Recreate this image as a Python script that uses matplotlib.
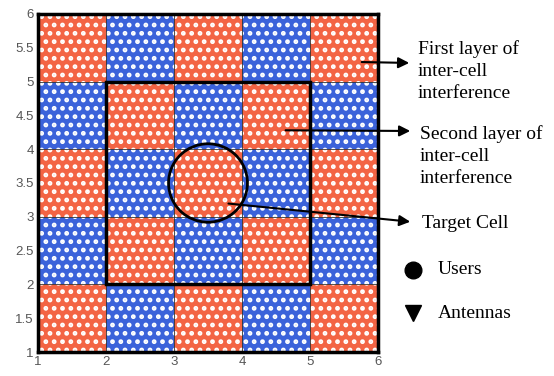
import matplotlib
matplotlib.use("Agg")
import matplotlib.pyplot as plt
from matplotlib.patches import Rectangle, Circle
from matplotlib.lines import Line2D

# 5x5 grid of cells (rows from bottom y=1 to top y=6); 0 = red users, 1 = blue users
cell_x = [1, 2, 3, 4, 5]
cell_y = [1, 2, 3, 4, 5]
cell_type = [
    [0, 1, 0, 1, 0],   # y 1-2
    [1, 0, 1, 0, 1],   # y 2-3
    [0, 1, 0, 1, 0],   # y 3-4
    [1, 0, 1, 0, 1],   # y 4-5
    [0, 1, 0, 1, 0],   # y 5-6
]
type_colors = ["#F36444", "#3B62DA"]
xticks = [1, 2, 3, 4, 5, 6]
yticks = [1, 1.5, 2, 2.5, 3, 3.5, 4, 4.5, 5, 5.5, 6]
ytick_labels = ["1", "1.5", "2", "2.5", "3", "3.5", "4", "4.5", "5", "5.5", "6"]
inner_box = (2, 2, 3, 3)          # x0, y0, width, height
target_center = (3.5, 3.5)
target_radius = 0.58

fig = plt.figure(figsize=(5.54, 3.76), dpi=100)
ax = fig.add_axes([0.0686, 0.0638, 0.6137, 0.899])

plt.rcParams['hatch.linewidth'] = 2.2
for r, yv in enumerate(cell_y):
    cols = [type_colors[t] for t in cell_type[r]]
    ax.bar([x + 0.5 for x in cell_x], [1] * len(cell_x), bottom=yv, width=1.0,
           color=cols, edgecolor="white", linewidth=0, hatch="..", zorder=1)

# thin cell borders
for v in [2, 3, 4, 5]:
    ax.axvline(v, color="#333333", lw=0.6, zorder=2)
    ax.axhline(v, color="#333333", lw=0.6, zorder=2)

ax.add_patch(Rectangle(inner_box[:2], inner_box[2], inner_box[3], fill=False,
                       edgecolor="black", lw=2.5, zorder=3))
ax.add_patch(Circle(target_center, target_radius, fill=False, edgecolor="black",
                    lw=2.0, zorder=3))

ax.set_xlim(1, 6)
ax.set_ylim(1, 6)
ax.set_xticks(xticks)
ax.set_yticks(yticks)
ax.set_yticklabels(ytick_labels)
ax.tick_params(length=0, labelsize=9.5, colors="#555555", pad=3)
for lab in ax.get_xticklabels() + ax.get_yticklabels():
    lab.set_fontfamily("Liberation Sans")
for s in ax.spines.values():
    s.set_linewidth(2.5)
    s.set_color("black")
    s.set_zorder(4)

serif = "Liberation Serif"
fs = 14
arrow_kw = dict(arrowstyle="-|>", color="black", lw=1.5, mutation_scale=16)

def fy(py):
    return 376 - py

ax.annotate("", xy=(412, fy(63)), xycoords="figure pixels", xytext=(5.72, 5.29),
            textcoords="data", arrowprops=arrow_kw, annotation_clip=False)
fig.text(418 / 554, fy(40) / 376, "First layer of\ninter-cell\ninterference",
         fontfamily=serif, fontsize=fs, va="top", ha="left", linespacing=1.4)

ax.annotate("", xy=(413, fy(131)), xycoords="figure pixels", xytext=(4.6, 4.28),
            textcoords="data", arrowprops=arrow_kw, annotation_clip=False)
fig.text(420 / 554, fy(125) / 376, "Second layer of\ninter-cell\ninterference",
         fontfamily=serif, fontsize=fs, va="top", ha="left", linespacing=1.4)

ax.annotate("", xy=(413, fy(222)), xycoords="figure pixels", xytext=(3.76, 3.2),
            textcoords="data", arrowprops=arrow_kw, annotation_clip=False)
fig.text(422 / 554, fy(223) / 376, "Target Cell",
         fontfamily=serif, fontsize=fs, va="center", ha="left")

fig.add_artist(Line2D([413 / 554], [fy(270) / 376], marker="o", markersize=12,
                      color="black", linestyle="none", transform=fig.transFigure))
fig.text(438 / 554, fy(270) / 376, "Users", fontfamily=serif, fontsize=fs,
         va="center", ha="left")
fig.add_artist(Line2D([413 / 554], [fy(313) / 376], marker="v", markersize=12,
                      color="black", linestyle="none", transform=fig.transFigure))
fig.text(438 / 554, fy(313) / 376, "Antennas", fontfamily=serif, fontsize=fs,
         va="center", ha="left")

fig.savefig("out.png", dpi=100)
